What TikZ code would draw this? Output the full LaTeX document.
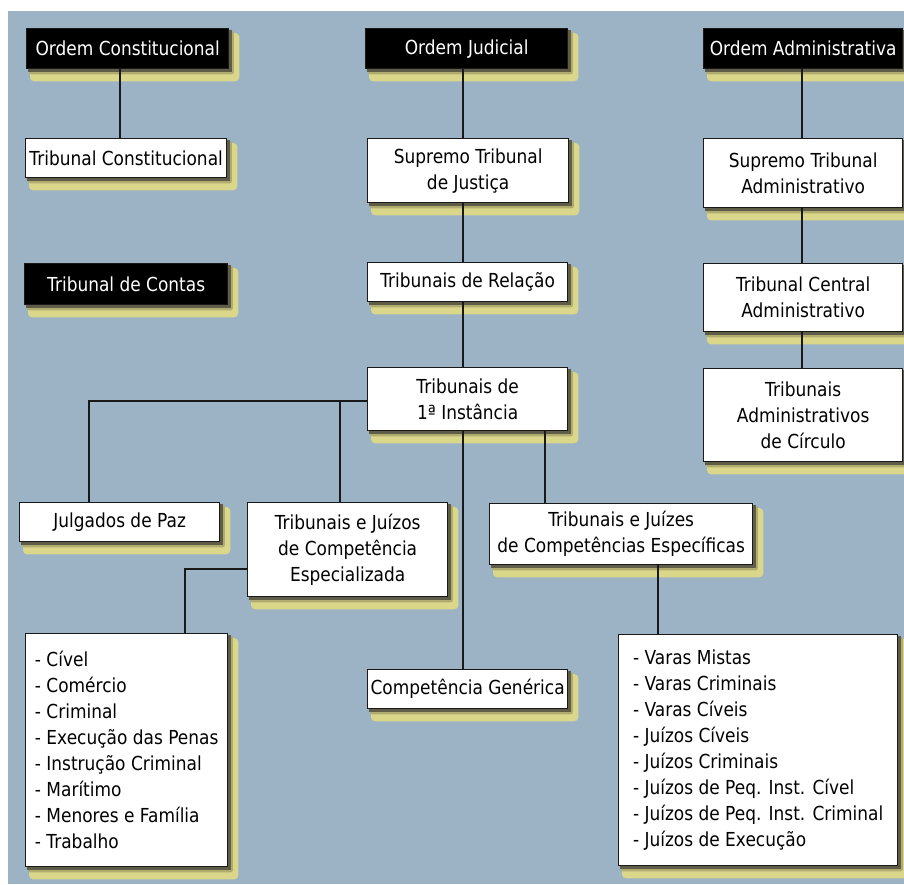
\documentclass[tikz,border=0pt]{standalone}
\usepackage{fontspec}
\setmainfont{DejaVu Sans}[FakeStretch=0.88]
\usetikzlibrary{backgrounds}
\definecolor{bgblue}{RGB}{156,179,197}
\definecolor{shy}{RGB}{218,214,138}
\definecolor{shm}{RGB}{176,171,110}
\definecolor{shd}{RGB}{95,93,72}
\definecolor{ink}{RGB}{25,25,25}
\tikzset{
  base/.style={draw=ink, line width=1.3pt, inner sep=0pt, anchor=north west,
    font=\fontsize{19.3}{26}\selectfont, align=center},
  wbox/.style={base, fill=white, text=black},
  bbox/.style={base, fill=black, text=white},
  lbox/.style={base, fill=white, text=black, align=left},
  conn/.style={draw=ink, line width=1.3pt},
}
\begin{document}
\begin{tikzpicture}[x=1pt,y=-1pt]
\useasboundingbox (0,0) rectangle (904,884);
\begin{scope}[on background layer]
  \fill[bgblue] (8,11) rectangle (904,884);
\end{scope}

% headers
\node[bbox, minimum width=202pt, minimum height=40pt] (oc) at (26,28) {Ordem Constitucional};
\node[bbox, minimum width=202pt, minimum height=40pt] (oj) at (365,28) {Ordem Judicial};
\node[bbox, minimum width=199pt, minimum height=40pt] (oa) at (703,28) {Ordem Administrativa};

% second row
\node[wbox, minimum width=201pt, minimum height=39pt] (tcon) at (25,138) {Tribunal Constitucional};
\node[wbox, minimum width=201pt, minimum height=64pt] (stj) at (367,138) {Supremo Tribunal\\de Justiça};
\node[wbox, minimum width=199pt, minimum height=69pt] (sta) at (703,138) {Supremo Tribunal\\Administrativo};

% third row
\node[bbox, minimum width=203pt, minimum height=41pt] (tcontas) at (24,263) {Tribunal de Contas};
\node[wbox, minimum width=200pt, minimum height=39pt] (trel) at (367,262) {Tribunais de Relação};
\node[wbox, minimum width=199pt, minimum height=68pt] (tca) at (703,263) {Tribunal Central\\Administrativo};

% fourth row
\node[wbox, minimum width=200pt, minimum height=63pt] (t1) at (367,367) {Tribunais de\\1ª Instância};
\node[wbox, minimum width=199pt, minimum height=93pt] (tac) at (703,368) {Tribunais\\Administrativos\\de Círculo};

% fifth row
\node[wbox, minimum width=200pt, minimum height=39pt] (jp) at (19,502) {Julgados de Paz};
\node[wbox, minimum width=200pt, minimum height=94pt] (esp) at (247,502) {Tribunais e Juízos\\de Competência\\Especializada};
\node[wbox, minimum width=263pt, minimum height=61pt] (espec) at (489,503) {Tribunais e Juízes\\de Competências Específicas};

% bottom
\node[wbox, minimum width=200pt, minimum height=39pt] (cg) at (367,669) {Competência Genérica};
\node[lbox, minimum width=202pt, minimum height=233pt] (llist) at (25,633)
  {- Cível\\- Comércio\\- Criminal\\- Execução das Penas\\- Instrução Criminal\\- Marítimo\\- Menores e Família\\- Trabalho};
\node[lbox, minimum width=279pt, minimum height=231pt] (rlist) at (618,634)
  {- Varas Mistas\\- Varas Criminais\\- Varas Cíveis\\- Juízos Cíveis\\- Juízos Criminais\\- Juízos de Peq. Inst. Cível\\- Juízos de Peq. Inst. Criminal\\- Juízos de Execução};

% shadows
\begin{scope}[on background layer]
  \foreach \n in {oc,oj,oa,tcon,stj,sta,tcontas,trel,tca,t1,tac,jp,esp,espec,cg,llist,rlist}{
    \fill[shy, rounded corners=4pt] ([xshift=4pt,yshift=-12pt]\n.south west) rectangle ([xshift=10pt,yshift=-5pt]\n.north east);
    \fill[shm, rounded corners=2pt] ([xshift=3pt,yshift=-5pt]\n.south west) rectangle ([xshift=4.5pt,yshift=-3pt]\n.north east);
    \fill[shd] ([xshift=2pt,yshift=-2.5pt]\n.south west) rectangle ([xshift=2.5pt,yshift=-2pt]\n.north east);
  }
\end{scope}

% connector guides
\coordinate (xc) at (120,0);
\coordinate (xj) at (463,0);
\coordinate (xa) at (802,0);
\coordinate (xp) at (89,0);
\coordinate (xe) at (340,0);
\coordinate (xs) at (545,0);
\coordinate (xr) at (658,0);
\coordinate (xl) at (185,0);
\coordinate (yb) at (0,401);
\coordinate (ye) at (0,569);

\draw[conn] (oc.south -| xc) -- (tcon.north -| xc);
\draw[conn] (oj.south -| xj) -- (stj.north -| xj);
\draw[conn] (stj.south -| xj) -- (trel.north -| xj);
\draw[conn] (trel.south -| xj) -- (t1.north -| xj);
\draw[conn] (t1.south -| xj) -- (cg.north -| xj);
\draw[conn] (oa.south -| xa) -- (sta.north -| xa);
\draw[conn] (sta.south -| xa) -- (tca.north -| xa);
\draw[conn] (tca.south -| xa) -- (tac.north -| xa);
\draw[conn] (t1.west |- yb) -| (jp.north -| xp);
\draw[conn] (xe |- yb) -- (esp.north -| xe);
\draw[conn] (t1.south -| xs) -- (espec.north -| xs);
\draw[conn] (espec.south -| xr) -- (rlist.north -| xr);
\draw[conn] (esp.west |- ye) -| (llist.north -| xl);
\end{tikzpicture}
\end{document}
